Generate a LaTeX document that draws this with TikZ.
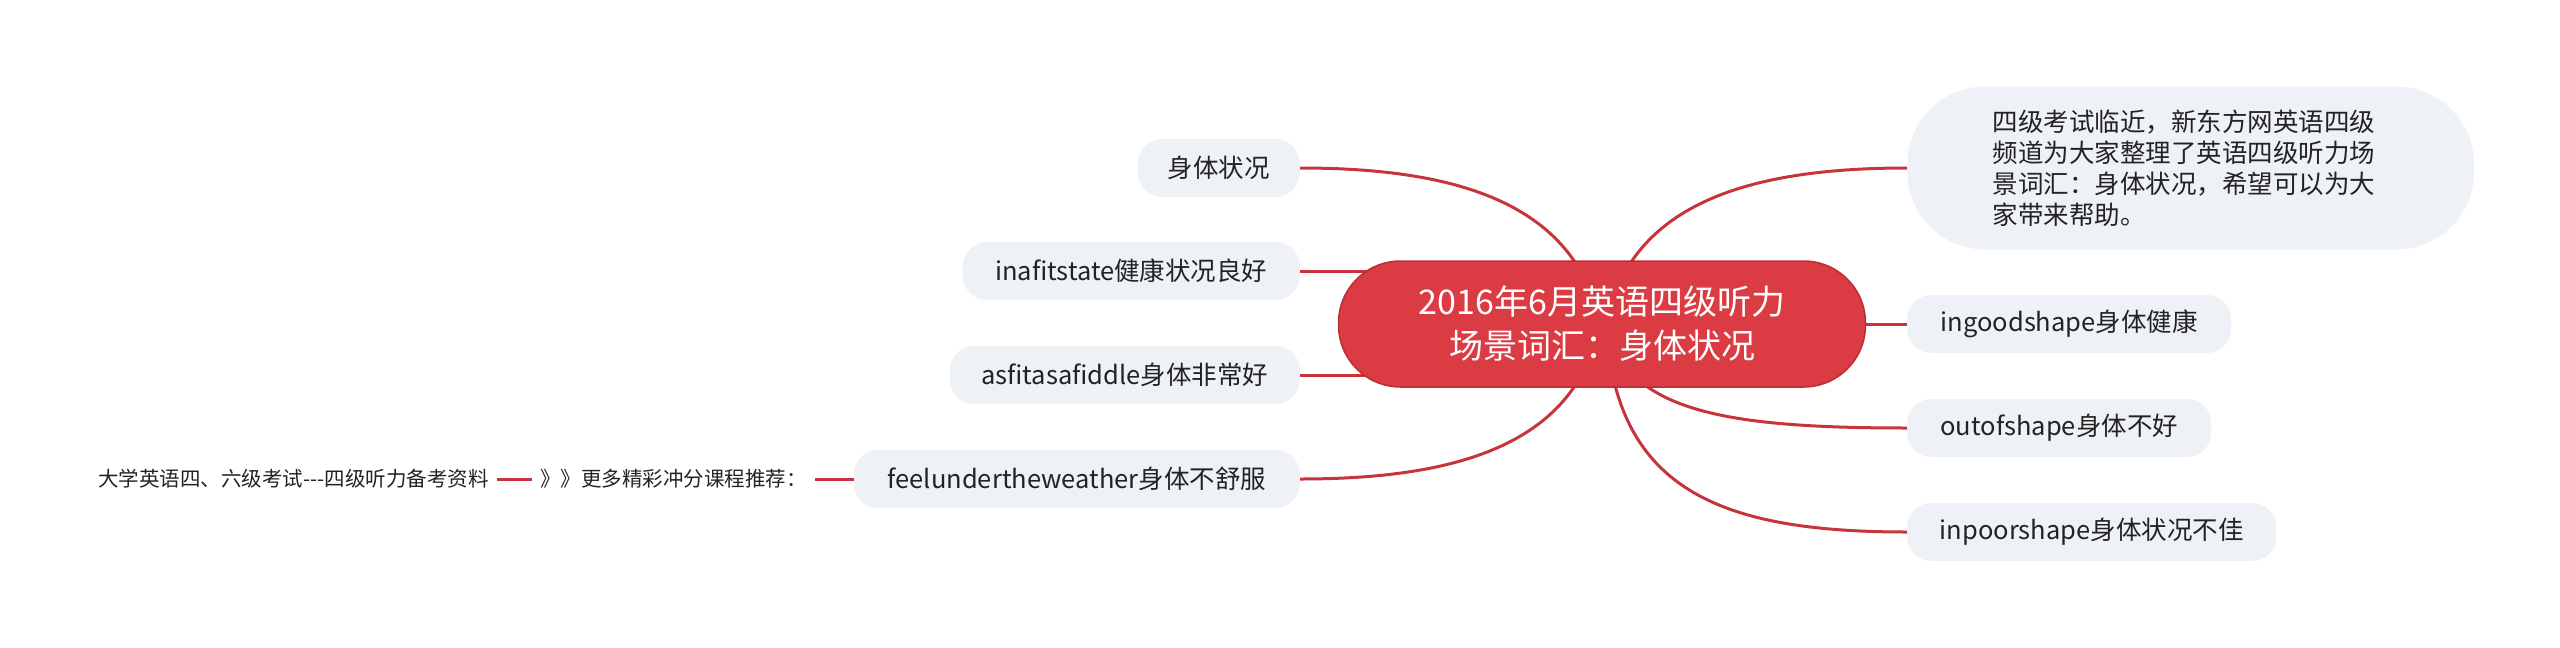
\documentclass[tikz,border=0pt]{standalone}
\usepackage{fontspec}
\setmainfont{Noto Sans CJK SC}
\definecolor{rootfill}{RGB}{219,60,68}
\definecolor{rootborder}{RGB}{192,44,52}
\definecolor{leaffill}{RGB}{238,241,245}
\definecolor{linkcol}{RGB}{200,52,60}
\definecolor{txt}{RGB}{35,35,35}
\pgfdeclarelayer{bg}
\pgfsetlayers{bg,main}
\tikzset{
  rootbox/.style={draw=rootborder, line width=1.5pt, fill=rootfill, text=white,
    rounded corners=62pt, minimum width=527pt, minimum height=126pt, align=center,
    font=\fontsize{34}{44}\selectfont, inner sep=0pt},
  leafbox/.style={fill=leaffill, text=txt, rounded corners=24pt, minimum height=58pt,
    font=\fontsize{25.5}{31}\selectfont, inner sep=0pt},
  descbox/.style={fill=leaffill, text=txt, rounded corners=78pt, minimum height=163pt,
    minimum width=567pt, text width=396pt, align=left,
    font=\fontsize{25.5}{31}\selectfont, inner xsep=85pt, inner ysep=0pt},
  plaintext/.style={text=txt, font=\fontsize{20.5}{25}\selectfont, inner xsep=8pt, inner ysep=2pt},
  link/.style={draw=linkcol, line width=3pt},
}
\begin{document}
\begin{tikzpicture}[x=1pt,y=-1pt]
\useasboundingbox (0,0) rectangle (2560,648);
% root
\node[rootbox] (root) at (1602,324) {2016年6月英语四级听力\\场景词汇：身体状况};
% left leaves
\node[leafbox, minimum width=162pt, anchor=east] (l1) at (1300,168) {身体状况};
\node[leafbox, minimum width=337pt, anchor=east] (l2) at (1300,271) {inafitstate健康状况良好};
\node[leafbox, minimum width=350pt, anchor=east] (l3) at (1300,375) {asfitasafiddle身体非常好};
\node[leafbox, minimum width=446pt, anchor=east] (l4) at (1300,479) {feelundertheweather身体不舒服};
% right leaves
\node[descbox, anchor=west] (r0) at (1907,168) {四级考试临近，新东方网英语四级\\频道为大家整理了英语四级听力场\\景词汇：身体状况，希望可以为大\\家带来帮助。};
\node[leafbox, minimum width=324pt, anchor=west] (r1) at (1907,324) {ingoodshape身体健康};
\node[leafbox, minimum width=304pt, anchor=west] (r2) at (1907,428) {outofshape身体不好};
\node[leafbox, minimum width=369pt, anchor=west] (r3) at (1907,532) {inpoorshape身体状况不佳};
% extra texts
\node[plaintext, anchor=east] (t1) at (815,479) {》》更多精彩冲分课程推荐：};
\node[plaintext, anchor=east] (t2) at (497,479) {大学英语四、六级考试\mbox{-}\mbox{-}\mbox{-}四级听力备考资料};
% connectors
\begin{pgfonlayer}{bg}
\coordinate (cl) at (1600,324);
\coordinate (cr) at (1606,324);
\draw[link] (cl) .. controls (1575,200) and (1450,168) .. (l1.east);
\draw[link] (l2.east) -- (1420,271);
\draw[link] (l3.east) -- (1420,375);
\draw[link] (cl) .. controls (1575,448) and (1450,479) .. (l4.east);
\draw[link] (cr) .. controls (1631,200) and (1756,168) .. (r0.west);
\draw[link] (root.east) -- (r1.west);
\draw[link] (cr) .. controls (1625,410) and (1720,428) .. (r2.west);
\draw[link] (cr) .. controls (1615,490) and (1720,532) .. (r3.west);
\end{pgfonlayer}
\draw[link] (l4.west) -- (t1.east);
\draw[link] (t1.west) -- (t2.east);
\end{tikzpicture}
\end{document}
